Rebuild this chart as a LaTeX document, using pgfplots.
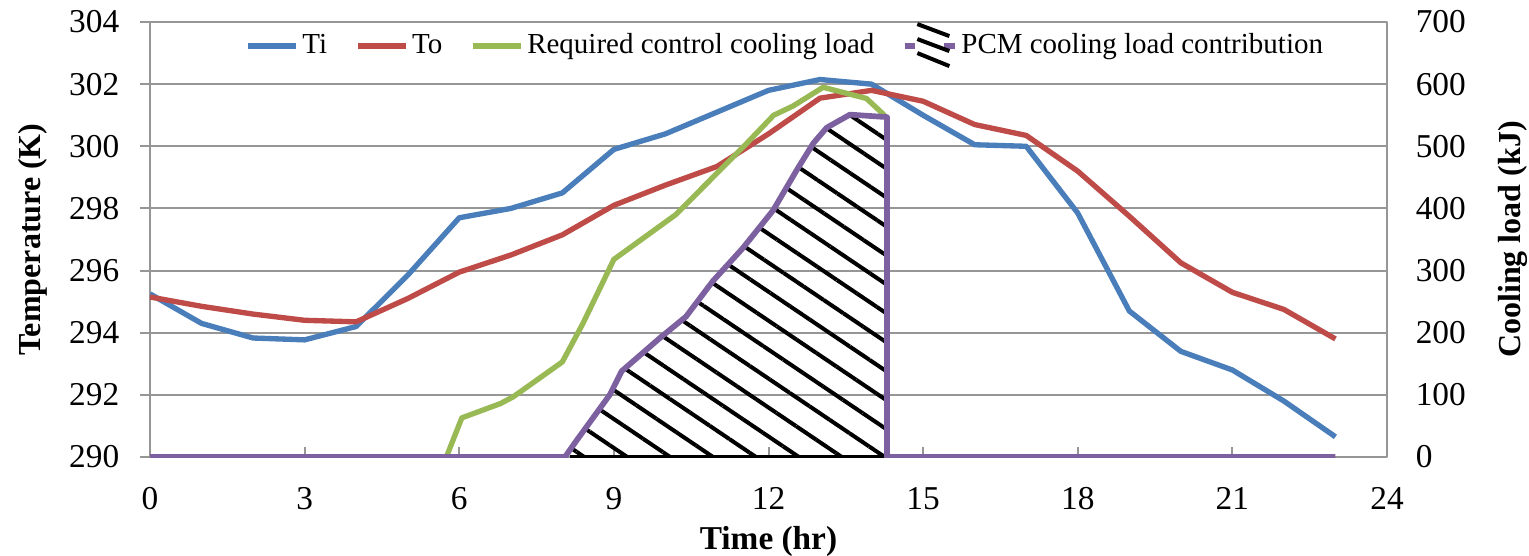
\documentclass[border=0pt]{standalone}
\usepackage{fontspec}
\setmainfont{Liberation Serif}
\usepackage{pgfplots}
\usepackage{pgfplotstable}
\pgfplotsset{compat=1.18}
\usetikzlibrary{patterns.meta}
\definecolor{tiC}{RGB}{74,126,187}
\definecolor{toC}{RGB}{190,75,72}
\definecolor{rqC}{RGB}{152,185,84}
\definecolor{pcmC}{RGB}{125,96,160}
\definecolor{gridC}{RGB}{150,150,150}

\pgfplotstableread{
t T
0 295.25
1 294.3
2 293.83
3 293.77
4 294.2
5 295.85
6 297.7
7 298.0
8 298.5
9 299.9
10 300.4
11 301.1
12 301.8
13 302.15
14 302.0
15 301.0
16 300.05
17 300.0
18 297.85
19 294.7
20 293.4
21 292.8
22 291.8
23 290.65
}\tiData

\pgfplotstableread{
t T
0 295.15
1 294.85
2 294.6
3 294.4
4 294.35
5 295.1
6 295.95
7 296.5
8 297.15
9 298.1
10 298.75
11 299.35
12 300.4
13 301.55
14 301.8
15 301.45
16 300.7
17 300.35
18 299.2
19 297.75
20 296.25
21 295.3
22 294.75
23 293.8
}\toData

\pgfplotstableread{
t Q
0 0
5.75 0
6.05 63
6.8 86
7.05 97
8.0 153
8.4 215
9.0 318
10.2 390
11.58 505
12.1 550
12.48 565
13.06 595
13.9 577
14.25 550
}\rqData

\pgfplotstableread{
t Q
8.05 0
8.28 27
8.92 100
9.15 138
9.9 192
10.4 226
10.92 283
11.5 336
12.09 397
12.55 462
12.87 505
13.13 530
13.58 551
14.3 547
14.3 0
}\pcmArea

\pgfplotstableread{
t Q
0 0
8.05 0
8.28 27
8.92 100
9.15 138
9.9 192
10.4 226
10.92 283
11.5 336
12.09 397
12.55 462
12.87 505
13.13 530
13.58 551
14.3 547
14.3 0
23 0
}\pcmLine

\begin{document}
\begin{tikzpicture}
\begin{axis}[
  at={(0pt,0pt)}, anchor=south west,
  scale only axis, width=371.1pt, height=130.5pt,
  xmin=0, xmax=24, ymin=290, ymax=304,
  xtick={0,3,...,24}, ytick={290,292,...,304},
  xtick pos=left, ytick pos=left,
  xtick align=inside, ytick align=outside,
  major tick length=3pt,
  tick style={gridC, line width=0.6pt},
  ymajorgrids, major grid style={gridC, line width=0.6pt},
  axis line style={gridC, line width=0.6pt},
  /pgf/number format/assume math mode=true,
  ticklabel style={font=\fontsize{10}{12}\selectfont, text=black},
  yticklabel style={xshift=-2.7pt},
  xticklabel style={yshift=-5.7pt},
  every axis x label/.style={at={(axis description cs:0.5,-0.1333)}, anchor=north, font=\bfseries\fontsize{10}{12}\selectfont},
  every axis y label/.style={at={(axis description cs:-0.1156,0.5)}, anchor=north, rotate=90, font=\bfseries\fontsize{9.6}{12}\selectfont},
  xlabel={Time (hr)},
  ylabel={Temperature (K)},
  line join=round,
]
\addplot[tiC, line width=1.6pt, no markers] table[x=t, y=T] {\tiData};
\addplot[toC, line width=1.6pt, no markers] table[x=t, y=T] {\toData};
\end{axis}
\begin{axis}[
  at={(0pt,0pt)}, anchor=south west,
  scale only axis, width=371.1pt, height=130.5pt,
  xmin=0, xmax=24, ymin=0, ymax=700,
  axis x line=none, axis y line*=right,
  ytick={0,100,...,700},
  ytick style={draw=none},
  axis line style={gridC, line width=0.6pt},
  /pgf/number format/assume math mode=true,
  ticklabel style={font=\fontsize{10}{12}\selectfont, text=black},
  yticklabel style={xshift=5.1pt},
  every axis y label/.style={at={(axis description cs:1.0808,0.5)}, anchor=north, rotate=90, font=\bfseries\fontsize{9.6}{12}\selectfont},
  ylabel={Cooling load (kJ)},
  line join=round,
  legend image code/.code={\draw[#1, line width=1.6pt] (0pt,0pt) -- (14.4pt,0pt);},
  legend style={at={(axis description cs:0.0768,0.947)}, anchor=west, draw=none, fill=none, inner sep=0pt,
    font=\fontsize{8.7}{10}\selectfont, legend columns=4,
    /tikz/every even column/.append style={column sep=7.5pt},
    nodes={inner sep=1pt}},
  legend cell align=left,
]
\addlegendimage{tiC}
\addlegendentry{Ti}
\addlegendimage{toC}
\addlegendentry{To}
\addplot[rqC, line width=1.6pt, no markers] table[x=t, y=Q] {\rqData};
\addlegendentry{Required control cooling load}
\addplot[draw=none, pattern={Lines[angle=-34, distance=7.2pt, line width=1.2pt]}, pattern color=black,
  legend image code/.code={
    \draw[pcmC, line width=1.6pt] (0pt,0pt) -- (3pt,0pt);
    \draw[pcmC, line width=1.6pt] (11.6pt,0pt) -- (15pt,0pt);
    \draw[black, line width=1.2pt] (3.6pt,6.6pt) -- (13.2pt,3pt);
    \draw[black, line width=1.2pt] (3.6pt,2.1pt) -- (13.2pt,-1.5pt);
    \draw[black, line width=1.2pt] (3.6pt,-2.1pt) -- (13.2pt,-6pt);
  }] table[x=t, y=Q] {\pcmArea} \closedcycle;
\addlegendentry{PCM cooling load contribution}
\addplot[pcmC, line width=1.7pt, no markers, forget plot] table[x=t, y=Q] {\pcmLine};
\addplot[black, line width=1.3pt, no markers, forget plot] coordinates {(8.15,0) (14.25,0)};
\end{axis}
\pgfresetboundingbox
\useasboundingbox (-45pt,-29.4pt) rectangle (413.7pt,137.1pt);
\end{tikzpicture}
\end{document}
